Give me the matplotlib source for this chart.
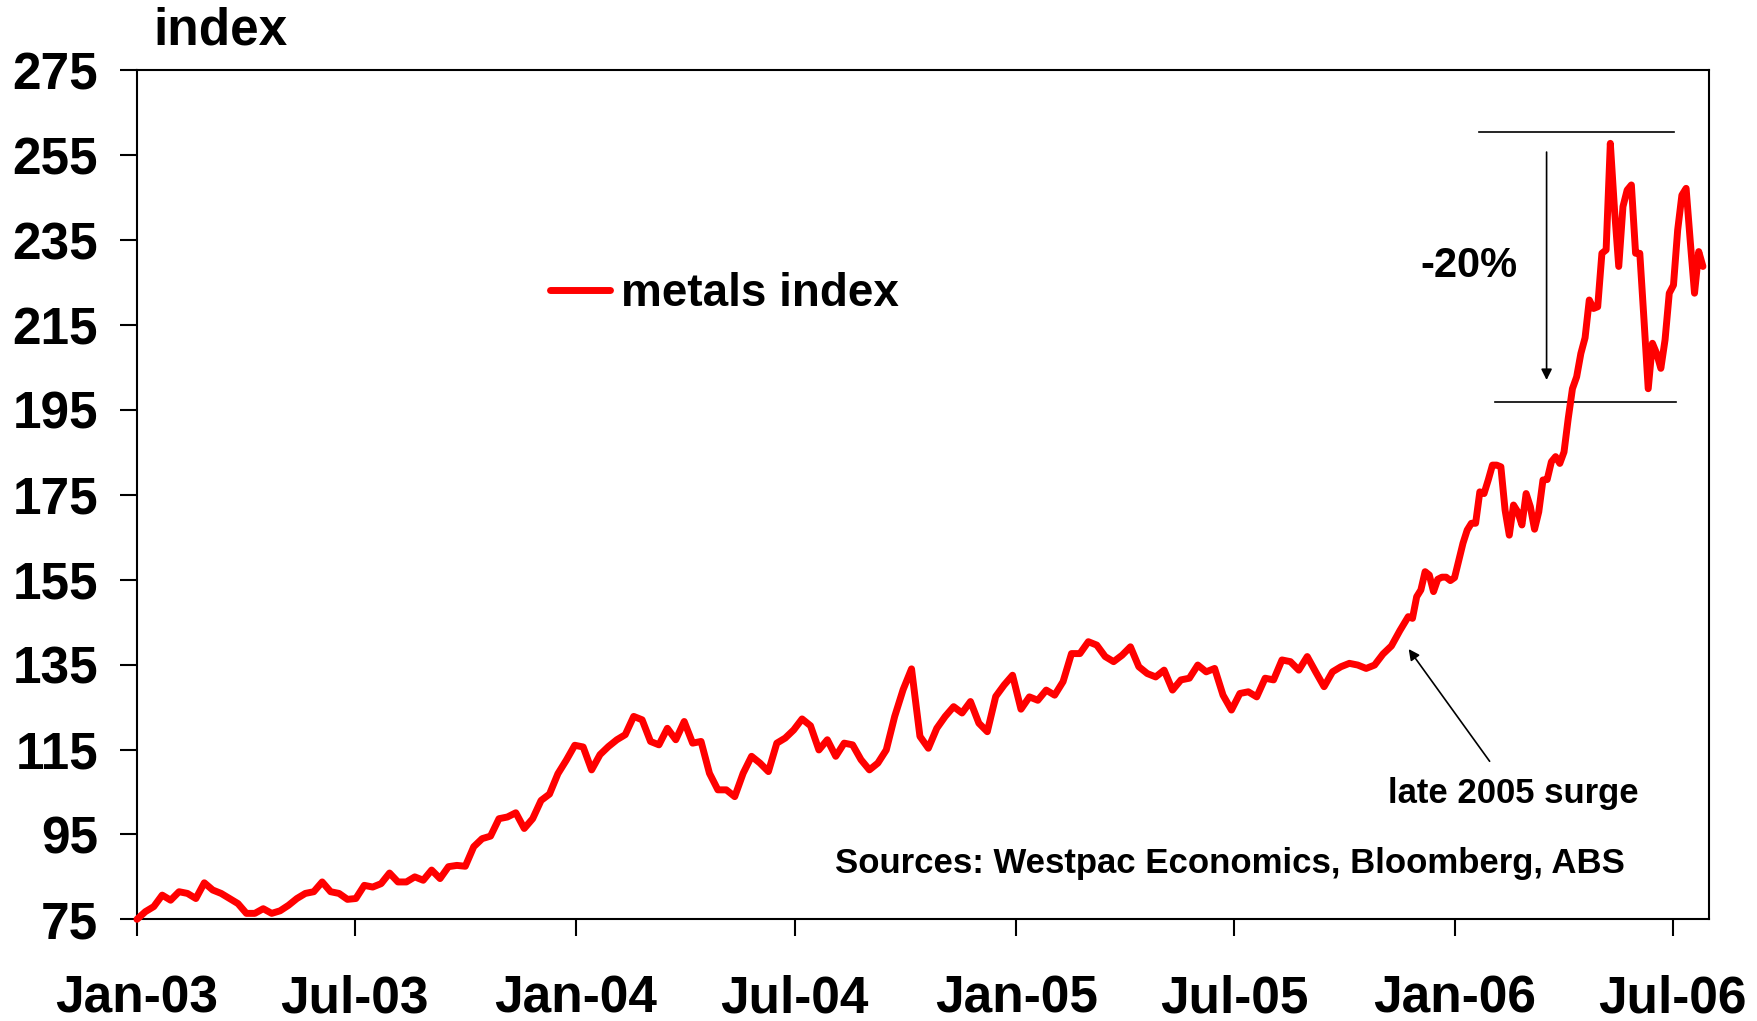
import pandas as pd
import matplotlib
matplotlib.use('Agg')
import matplotlib.pyplot as plt

plt.rcParams['font.family'] = ['Liberation Sans', 'DejaVu Sans']
plt.rcParams['font.weight'] = 'bold'

# metals index, weekly from Jan 2003 to late Nov 2005
metals_weekly = [
    75.0, 76.8, 78.0, 80.7, 79.5, 81.5, 81.1, 79.9, 83.6, 81.9,
    81.1, 79.9, 78.7, 76.4, 76.4, 77.5, 76.4, 77.0, 78.3, 79.9,
    81.1, 81.5, 83.8, 81.5, 81.1, 79.7, 79.9, 83.0, 82.6, 83.4,
    85.9, 83.8, 83.8, 85.0, 84.2, 86.6, 84.6, 87.4, 87.7, 87.5,
    92.1, 94.0, 94.6, 98.7, 99.1, 100.1, 96.4, 98.7, 103.0, 104.5,
    109.3, 112.5, 116.0, 115.6, 110.2, 113.8, 115.7, 117.3, 118.5, 122.8,
    122.0, 116.9, 116.1, 120.0, 117.3, 121.6, 116.5, 116.9, 109.4, 105.5,
    105.5, 103.9, 109.4, 113.4, 111.8, 109.8, 116.5, 117.7, 119.6, 122.2,
    120.6, 114.9, 117.3, 113.4, 116.5, 116.1, 112.6, 110.2, 111.8, 114.9,
    122.8, 129.1, 134.0, 118.1, 115.3, 120.0, 122.8, 125.1, 123.6, 126.3,
    121.2, 119.2, 127.5, 130.2, 132.5, 124.5, 127.4, 126.6, 129.0, 127.8,
    131.0, 137.6, 137.6, 140.4, 139.6, 136.9, 135.7, 137.2, 139.2, 134.5,
    132.9, 132.1, 133.7, 129.0, 131.4, 131.8, 134.9, 133.3, 134.1, 127.8,
    124.3, 128.2, 128.6, 127.4, 131.8, 131.4, 136.1, 135.7, 133.7, 136.9,
    133.3, 129.8, 133.3, 134.5, 135.3, 134.9, 134.1, 134.9, 137.5, 139.4,
    143.0, 146.3,
]
# twice-weekly from late Nov 2005 to Jul 2006
metals_recent = [
    145.9, 151.0, 152.6, 156.9, 156.1, 152.2, 155.1, 155.6, 155.6, 154.8,
    155.5, 159.6, 163.6, 166.7, 168.3, 168.3, 175.7, 175.3, 178.5, 182.0,
    182.0, 181.6, 171.4, 165.5, 172.6, 171.0, 167.9, 175.3, 172.2, 166.9,
    171.0, 178.5, 178.6, 182.8, 184.0, 182.4, 185.1, 193.0, 200.0, 202.8,
    208.3, 212.0, 220.9, 218.9, 219.3, 231.9, 232.7, 257.8, 242.1, 228.8,
    242.9, 246.8, 248.0, 231.9, 231.9, 216.2, 200.0, 210.7, 208.3, 204.8,
    211.5, 222.5, 224.4, 237.4, 245.6, 247.2, 234.6, 222.5, 232.3, 228.8,
]

dates_weekly = pd.date_range('2003-01-01', '2005-11-23', periods=len(metals_weekly))
dates_recent = pd.date_range('2005-11-26 12:00', '2006-07-26', periods=len(metals_recent))
dates = dates_weekly.append(dates_recent)
metals = metals_weekly + metals_recent

y_ticks = [75, 95, 115, 135, 155, 175, 195, 215, 235, 255, 275]
x_ticks = pd.to_datetime(['2003-01-01', '2003-07-01', '2004-01-01', '2004-07-01',
                          '2005-01-01', '2005-07-01', '2006-01-01', '2006-07-01'])
x_labels = ['Jan-03', 'Jul-03', 'Jan-04', 'Jul-04', 'Jan-05', 'Jul-05', 'Jan-06', 'Jul-06']

fig = plt.figure(figsize=(17.58, 10.21), dpi=100)
ax = fig.add_axes([0.0779, 0.0996, 0.8942, 0.8315])

ax.plot(dates, metals, color='#ff0000', lw=5, solid_joinstyle='round',
        solid_capstyle='round', label='metals index', clip_on=False, zorder=3)

ax.set_ylim(75, 275)
ax.set_xlim(pd.Timestamp('2003-01-01'), pd.Timestamp('2006-07-31'))
ax.set_yticks(y_ticks)
ax.set_xticks(x_ticks)
ax.set_xticklabels(x_labels)
ax.tick_params(direction='out', length=12, width=1.5, labelsize=37, colors='black')
ax.tick_params(axis='x', pad=28)
ax.tick_params(axis='y', pad=16)
for s in ax.spines.values():
    s.set_linewidth(1.5)

fig.text(0.087, 0.956, 'index', fontsize=37, ha='left', va='baseline')

ax.legend(loc='center left', bbox_to_anchor=(0.263, 0.736), frameon=False,
          fontsize=33, handlelength=1.31, handletextpad=0.24,
          borderpad=0, borderaxespad=0)

# peak-to-trough range in 2006
ax.plot(pd.to_datetime(['2006-01-21', '2006-07-02']), [260.4, 260.4], color='black', lw=1.2)
ax.plot(pd.to_datetime(['2006-02-03', '2006-07-04']), [196.8, 196.8], color='black', lw=1.2)
ax.annotate('', xy=(pd.Timestamp('2006-03-18'), 201.4), xytext=(pd.Timestamp('2006-03-18'), 256.4),
            arrowprops=dict(arrowstyle='-|>', color='black', lw=1.2, mutation_scale=16))
ax.text(0.8473, 0.757, '-20%', transform=ax.transAxes, fontsize=30, ha='center', va='baseline')

ax.annotate('', xy=(pd.Timestamp('2005-11-22'), 139.2), xytext=(pd.Timestamp('2006-01-31'), 111.7),
            arrowprops=dict(arrowstyle='-|>', color='black', lw=1.2, mutation_scale=16))
ax.text(0.8753, 0.137, 'late 2005 surge', transform=ax.transAxes, fontsize=25,
        ha='center', va='baseline')
ax.text(0.9466, 0.0542, 'Sources: Westpac Economics, Bloomberg, ABS', transform=ax.transAxes,
        fontsize=25, ha='right', va='baseline')

fig.savefig('out.png', dpi=100)
